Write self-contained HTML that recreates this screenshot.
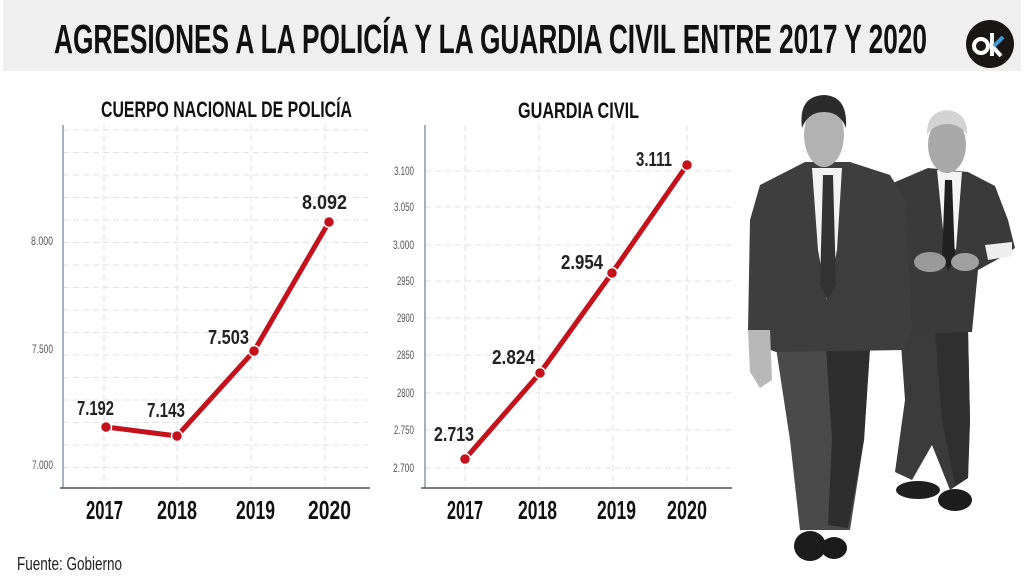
<!DOCTYPE html>
<html>
<head>
<meta charset="utf-8">
<style>
  html,body{margin:0;padding:0;background:#fff;}
  svg{display:block;}
  text{font-family:"Liberation Sans Narrow","Liberation Sans",sans-serif;}
</style>
</head>
<body>
<svg width="1024" height="576" viewBox="0 0 1024 576" xmlns="http://www.w3.org/2000/svg">
  <rect x="0" y="0" width="1024" height="576" fill="#ffffff"/>
  <!-- Banner -->
  <rect x="3" y="0" width="1018" height="71" fill="#efefef"/>
  <text x="54" y="53" font-size="41" font-weight="bold" fill="#111" textLength="873" lengthAdjust="spacingAndGlyphs">AGRESIONES A LA POLICÍA Y LA GUARDIA CIVIL ENTRE 2017 Y 2020</text>
  <!-- Logo -->
  <circle cx="990" cy="44" r="24" fill="#1b1616"/>
  <circle cx="981" cy="46" r="7" fill="none" stroke="#fff" stroke-width="4"/>
  <line x1="992" y1="33" x2="992" y2="56" stroke="#fff" stroke-width="4"/>
  <line x1="993" y1="47" x2="1001" y2="56" stroke="#fff" stroke-width="4"/>
  <line x1="994" y1="46" x2="1003" y2="37" stroke="#3e9be0" stroke-width="4"/>

  <!-- ============ LEFT CHART ============ -->
  <text x="101" y="117" font-size="22" font-weight="bold" fill="#111" textLength="251" lengthAdjust="spacingAndGlyphs">CUERPO NACIONAL DE POLICÍA</text>
  <g stroke="#e2e2e2" stroke-width="1" stroke-dasharray="6,4" fill="none">
    <line x1="63" y1="130" x2="368" y2="130"/>
    <line x1="63" y1="152.5" x2="368" y2="152.5"/>
    <line x1="63" y1="175" x2="368" y2="175"/>
    <line x1="63" y1="197.5" x2="368" y2="197.5"/>
    <line x1="63" y1="220" x2="368" y2="220"/>
    <line x1="63" y1="242.5" x2="368" y2="242.5"/>
    <line x1="63" y1="265" x2="368" y2="265"/>
    <line x1="63" y1="287.5" x2="368" y2="287.5"/>
    <line x1="63" y1="310" x2="368" y2="310"/>
    <line x1="63" y1="332.5" x2="368" y2="332.5"/>
    <line x1="63" y1="355" x2="368" y2="355"/>
    <line x1="63" y1="377.5" x2="368" y2="377.5"/>
    <line x1="63" y1="400" x2="368" y2="400"/>
    <line x1="63" y1="422.5" x2="368" y2="422.5"/>
    <line x1="63" y1="445" x2="368" y2="445"/>
    <line x1="63" y1="467.5" x2="368" y2="467.5"/>
    <line x1="104" y1="125" x2="104" y2="488"/>
    <line x1="177" y1="125" x2="177" y2="488"/>
    <line x1="251" y1="125" x2="251" y2="488"/>
    <line x1="325" y1="125" x2="325" y2="488"/>
  </g>
  <line x1="63" y1="125" x2="63" y2="488" stroke="#8a99a6" stroke-width="1.5"/>
  <line x1="60" y1="488" x2="370" y2="488" stroke="#555" stroke-width="1.5"/>
  <g font-size="12" fill="#555" text-anchor="end">
    <text x="53" y="245" textLength="22" lengthAdjust="spacingAndGlyphs">8.000</text>
    <text x="53" y="353" textLength="21" lengthAdjust="spacingAndGlyphs">7.500</text>
    <text x="53" y="469" textLength="21" lengthAdjust="spacingAndGlyphs">7.000</text>
  </g>
  <polyline points="106,427 177,436 254,351 329,222" fill="none" stroke="#c4111b" stroke-width="5" stroke-linecap="round" stroke-linejoin="round"/>
  <g fill="#c4111b" stroke="#fff" stroke-width="1.5">
    <circle cx="106" cy="427" r="5.5"/>
    <circle cx="177" cy="436" r="5.5"/>
    <circle cx="254" cy="351" r="5.5"/>
    <circle cx="329" cy="222" r="5.5"/>
  </g>
  <g font-size="20" font-weight="bold" fill="#222">
    <text x="77" y="415" textLength="37" lengthAdjust="spacingAndGlyphs">7.192</text>
    <text x="147" y="417" textLength="38" lengthAdjust="spacingAndGlyphs">7.143</text>
    <text x="208" y="344" textLength="41" lengthAdjust="spacingAndGlyphs">7.503</text>
    <text x="302" y="209" textLength="45" lengthAdjust="spacingAndGlyphs">8.092</text>
  </g>
  <g font-size="26" font-weight="bold" fill="#111">
    <text x="86" y="519" textLength="37" lengthAdjust="spacingAndGlyphs">2017</text>
    <text x="157" y="519" textLength="40" lengthAdjust="spacingAndGlyphs">2018</text>
    <text x="236" y="519" textLength="39" lengthAdjust="spacingAndGlyphs">2019</text>
    <text x="308" y="519" textLength="43" lengthAdjust="spacingAndGlyphs">2020</text>
  </g>

  <!-- ============ RIGHT CHART ============ -->
  <text x="518" y="118" font-size="22" font-weight="bold" fill="#111" textLength="121" lengthAdjust="spacingAndGlyphs">GUARDIA CIVIL</text>
  <g stroke="#e2e2e2" stroke-width="1" stroke-dasharray="6,4" fill="none">
    <line x1="425" y1="171" x2="732" y2="171"/>
    <line x1="425" y1="207" x2="732" y2="207"/>
    <line x1="425" y1="245" x2="732" y2="245"/>
    <line x1="425" y1="281" x2="732" y2="281"/>
    <line x1="425" y1="318" x2="732" y2="318"/>
    <line x1="425" y1="355" x2="732" y2="355"/>
    <line x1="425" y1="393" x2="732" y2="393"/>
    <line x1="425" y1="430" x2="732" y2="430"/>
    <line x1="425" y1="468" x2="732" y2="468"/>
    <line x1="465" y1="125" x2="465" y2="488"/>
    <line x1="539" y1="125" x2="539" y2="488"/>
    <line x1="613" y1="125" x2="613" y2="488"/>
    <line x1="687" y1="125" x2="687" y2="488"/>
  </g>
  <line x1="425" y1="125" x2="425" y2="488" stroke="#8a99a6" stroke-width="1.5"/>
  <line x1="421" y1="488" x2="732" y2="488" stroke="#555" stroke-width="1.5"/>
  <g font-size="12" fill="#555" text-anchor="end">
    <text x="414" y="175" textLength="20" lengthAdjust="spacingAndGlyphs">3.100</text>
    <text x="414" y="211" textLength="20" lengthAdjust="spacingAndGlyphs">3.050</text>
    <text x="414" y="249" textLength="21" lengthAdjust="spacingAndGlyphs">3.000</text>
    <text x="414" y="285" textLength="17" lengthAdjust="spacingAndGlyphs">2950</text>
    <text x="414" y="322" textLength="17" lengthAdjust="spacingAndGlyphs">2900</text>
    <text x="414" y="359" textLength="17" lengthAdjust="spacingAndGlyphs">2850</text>
    <text x="414" y="397" textLength="17" lengthAdjust="spacingAndGlyphs">2800</text>
    <text x="414" y="434" textLength="20" lengthAdjust="spacingAndGlyphs">2.750</text>
    <text x="414" y="472" textLength="21" lengthAdjust="spacingAndGlyphs">2.700</text>
  </g>
  <polyline points="465,459 540,373 612,273 687,165" fill="none" stroke="#c4111b" stroke-width="5" stroke-linecap="round" stroke-linejoin="round"/>
  <g fill="#c4111b" stroke="#fff" stroke-width="1.5">
    <circle cx="465" cy="459" r="5.5"/>
    <circle cx="540" cy="373" r="5.5"/>
    <circle cx="612" cy="273" r="5.5"/>
    <circle cx="687" cy="165" r="5.5"/>
  </g>
  <g font-size="20" font-weight="bold" fill="#222">
    <text x="434" y="441" textLength="40" lengthAdjust="spacingAndGlyphs">2.713</text>
    <text x="492" y="364" textLength="43" lengthAdjust="spacingAndGlyphs">2.824</text>
    <text x="561" y="269" textLength="42" lengthAdjust="spacingAndGlyphs">2.954</text>
    <text x="636" y="166" textLength="36" lengthAdjust="spacingAndGlyphs">3.111</text>
  </g>
  <g font-size="26" font-weight="bold" fill="#111">
    <text x="447" y="519" textLength="36" lengthAdjust="spacingAndGlyphs">2017</text>
    <text x="518" y="519" textLength="39" lengthAdjust="spacingAndGlyphs">2018</text>
    <text x="597" y="519" textLength="39" lengthAdjust="spacingAndGlyphs">2019</text>
    <text x="667" y="519" textLength="40" lengthAdjust="spacingAndGlyphs">2020</text>
  </g>

  <!-- Source -->
  <text x="17" y="570" font-size="18" fill="#222" textLength="105" lengthAdjust="spacingAndGlyphs">Fuente: Gobierno</text>

  <!-- ============ PHOTO (approximation) ============ -->
  <!-- Person 2 (back, right) -->
  <g>
    <polygon points="900,330 968,330 970,420 968,478 950,490 932,445 912,480 895,472 905,400" fill="#3b3b3b"/>
    <polygon points="935,330 968,330 970,420 968,478 955,486 942,420" fill="#2f2f2f"/>
    <ellipse cx="918" cy="490" rx="22" ry="9" fill="#1f1f1f"/>
    <ellipse cx="955" cy="500" rx="17" ry="11" fill="#1c1c1c"/>
    <polygon points="888,185 928,168 968,172 995,186 1008,220 1015,248 1000,258 978,270 972,332 900,334 885,320 882,250" fill="#3a3a3a"/>
    <polygon points="985,245 1012,242 1012,256 988,260" fill="#eeeeee"/>
    <polygon points="937,170 962,172 956,250 944,240" fill="#f4f4f4"/>
    <polygon points="945,180 952,180 955,260 948,270 942,258" fill="#202020"/>
    <ellipse cx="930" cy="262" rx="16" ry="10" fill="#9a9a9a"/>
    <ellipse cx="965" cy="262" rx="14" ry="9" fill="#a0a0a0"/>
    <ellipse cx="947" cy="145" rx="19" ry="28" fill="#a9a9a9"/>
    <path d="M927,135 Q926,112 947,110 Q968,112 967,135 Q960,124 947,124 Q934,124 927,135 Z" fill="#d3d3d3"/>
  </g>
  <!-- Person 1 (front, left) -->
  <g>
    <polygon points="776,348 870,348 864,440 850,530 800,530 790,440" fill="#4a4a4a"/>
    <polygon points="826,348 870,348 864,440 848,528 828,525 832,440" fill="#2e2e2e"/>
    <ellipse cx="810" cy="546" rx="16" ry="15" fill="#1c1c1c"/>
    <ellipse cx="834" cy="548" rx="13" ry="11" fill="#1a1a1a"/>
    <polygon points="760,185 805,162 850,162 890,175 905,200 912,330 905,350 776,352 760,346 748,330 750,220" fill="#3e3e3e"/>
    <polygon points="748,330 770,330 772,380 760,388 750,372" fill="#b8b8b8"/>
    <polygon points="812,168 842,168 837,250 827,300 818,250" fill="#f2f2f2"/>
    <polygon points="823,175 833,175 836,285 828,300 820,285" fill="#333333"/>
    <ellipse cx="824" cy="135" rx="20" ry="32" fill="#b2b2b2"/>
    <path d="M802,128 Q798,96 824,95 Q848,96 846,128 Q840,112 824,112 Q808,112 802,128 Z" fill="#2b2b2b"/>
  </g>
</svg>
</body>
</html>
